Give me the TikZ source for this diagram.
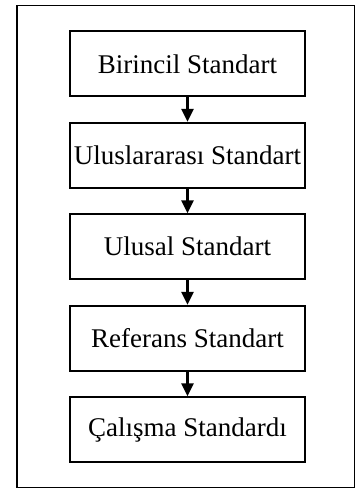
\documentclass[tikz,border=0pt]{standalone}
\usepackage{fontspec}
\setmainfont{Liberation Serif}
\usetikzlibrary{arrows.meta}
\begin{document}
\begin{tikzpicture}[x=1pt,y=-1pt,
  stdbox/.style={draw, line width=1.8pt, minimum width=235pt, minimum height=65pt, inner sep=0pt, font=\fontsize{27}{30}\selectfont},
  flow/.style={line width=3pt, -{Triangle[length=13pt,width=12pt]}}]
\useasboundingbox (0,0) rectangle (356,491);
\draw[line width=1.8pt] (17,5.5) rectangle (354.5,487.5);
\node[stdbox] (b1) at (187.5,63.8) {Birincil Standart};
\node[stdbox] (b2) at (187.5,155.2) {Uluslararası Standart};
\node[stdbox] (b3) at (187.5,246.7) {Ulusal Standart};
\node[stdbox] (b4) at (187.5,338.2) {Referans Standart};
\node[stdbox] (b5) at (187.5,429.7) {Çalışma Standardı};
\draw[flow] (b1) -- (b2);
\draw[flow] (b2) -- (b3);
\draw[flow] (b3) -- (b4);
\draw[flow] (b4) -- (b5);
\end{tikzpicture}
\end{document}
